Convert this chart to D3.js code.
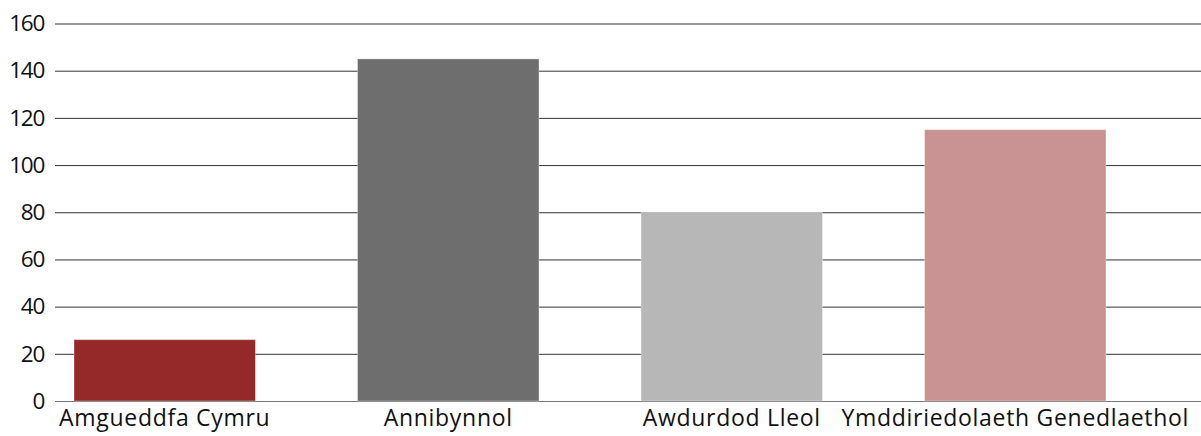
<!DOCTYPE html>
<html><head><meta charset="utf-8">
<script src="https://cdn.jsdelivr.net/npm/d3@7"></script>
<style>body{margin:0;background:#fff}svg{display:block}</style>
</head><body>
<svg id="c" width="1201" height="436"></svg>
<script>
const categories = ["Amgueddfa Cymru","Annibynnol","Awdurdod Lleol","Ymddiriedolaeth Genedlaethol"];
const values = [26, 145, 80, 115];
const colors = ["#952828","#6e6e6e","#b7b7b7","#c99393"];
const yTicks = [0,20,40,60,80,100,120,140,160];

const svg = d3.select("#c");
const font = "'Open Sans', 'Noto Sans', sans-serif";
const y = d3.scaleLinear().domain([0,160]).range([401,23.5]);
const x = d3.scaleBand().domain(categories).range([74,1106]).paddingInner(0.36).paddingOuter(0);

// gridlines
const yAxis = d3.axisLeft(y).tickValues(yTicks).tickSize(-(1201-55)).tickPadding(11);
const g = svg.append("g").attr("transform","translate(55,0)").call(yAxis);
g.select(".domain").remove();
g.selectAll(".tick line").attr("stroke", d => d===0 ? "#777" : "#333").attr("stroke-width",1);
g.selectAll(".tick text").attr("font-family",font).attr("font-size",22.5).attr("fill","#111")
  .attr("letter-spacing","-1.3px");

// bars
svg.append("g").selectAll("rect").data(values).join("rect")
  .attr("x",(d,i)=>x(categories[i]))
  .attr("width",x.bandwidth())
  .attr("y",d=>y(d))
  .attr("height",d=>y(0)-y(d))
  .attr("fill",(d,i)=>colors[i])
  .attr("stroke","rgba(255,255,255,0.35)")
  .attr("stroke-width",1);

// x axis labels
const xAxis = d3.axisBottom(x).tickSize(0).tickPadding(9);
const gx = svg.append("g").attr("transform","translate(0,401)").call(xAxis);
gx.select(".domain").remove();
gx.selectAll(".tick text").attr("font-family",font).attr("font-size",23).attr("fill","#111")
  .attr("letter-spacing","0.7px");
</script>
</body></html>
